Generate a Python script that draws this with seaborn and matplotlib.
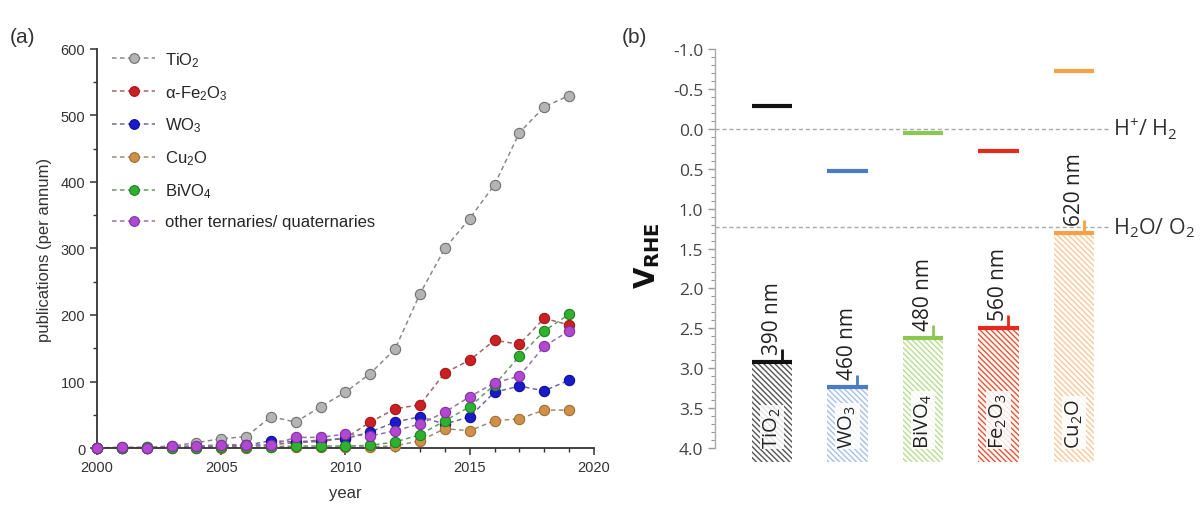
import numpy as np
import pandas as pd
import matplotlib
matplotlib.use("Agg")
import matplotlib.pyplot as plt
from matplotlib.ticker import MultipleLocator, FixedLocator, FormatStrFormatter
import seaborn as sns

# ---------------- data: publications per year ----------------
years = list(range(2000, 2020))
tio2 = [0, 1, 1, 3, 8, 14, 17, 47, 39, 62, 84, 112, 149, 232, 300, 345, 396, 474, 513, 530]
fe2o3 = [0, 0, 0, 1, 1, 2, 3, 5, 8, 10, 15, 39, 59, 65, 113, 132, 162, 156, 195, 185]
wo3 = [0, 0, 0, 1, 2, 3, 4, 11, 9, 12, 14, 24, 39, 47, 36, 47, 84, 93, 86, 102]
cu2o = [0, 0, 0, 0, 0, 0, 0, 1, 1, 1, 1, 2, 3, 11, 29, 26, 41, 44, 57, 57]
bivo4 = [0, 0, 1, 0, 0, 1, 1, 2, 3, 3, 3, 4, 9, 20, 41, 62, 95, 138, 176, 201]
others = [0, 1, 0, 3, 3, 5, 5, 4, 16, 16, 21, 18, 26, 36, 54, 77, 98, 108, 153, 176]

series_names = ["TiO$_2$", r"$\alpha$-Fe$_2$O$_3$", "WO$_3$", "Cu$_2$O", "BiVO$_4$",
                "other ternaries/ quaternaries"]
series_values = [tio2, fe2o3, wo3, cu2o, bivo4, others]
marker_colors = ["#b4b4b4", "#cc1f24", "#1a1acc", "#d09048", "#30b030", "#b048d0"]
edge_colors = ["#707070", "#a01818", "#101090", "#a06c30", "#208020", "#8030a0"]
line_colors = ["#8a8a8a", "#a06666", "#6a6aa0", "#a08a70", "#6a9a6a", "#9a70a8"]

# ---------------- data: band positions ----------------
materials = ["TiO$_2$", "WO$_3$", "BiVO$_4$", "Fe$_2$O$_3$", "Cu$_2$O"]
cb_level = [-0.28, 0.53, 0.05, 0.28, -0.72]
vb_level = [2.92, 3.24, 2.62, 2.49, 1.30]
edge_wavelength = ["390 nm", "460 nm", "480 nm", "560 nm", "620 nm"]
redox_levels = [0.0, 1.23]
redox_labels = ["H$^{+}$/ H$_2$", "H$_2$O/ O$_2$"]
band_colors = ["#111111", "#4a7cc8", "#8cc850", "#e8281c", "#f7a044"]
hatch_colors = ["#555555", "#a8c0e6", "#b6de90", "#f05030", "#f9c898"]

sns.set_style("white")
plt.rcParams["font.family"] = ["Liberation Sans", "DejaVu Sans"]
plt.rcParams["mathtext.default"] = "regular"
plt.rcParams["axes.unicode_minus"] = False
plt.rcParams["hatch.linewidth"] = 1.0

fig = plt.figure(figsize=(12.03, 5.10), dpi=100)

# ================= panel (a) =================
axa = fig.add_axes([0.0806, 0.1196, 0.4131, 0.7824])
rows = []
for name, vals in zip(series_names, series_values):
    for y, v in zip(years, vals):
        rows.append({"year": y, "count": v, "material": name})
df = pd.DataFrame(rows)

sns.lineplot(data=df, x="year", y="count", hue="material", hue_order=series_names,
             palette=dict(zip(series_names, line_colors)), ax=axa,
             linewidth=1.1, legend=False)
for line in axa.lines:
    line.set_dashes([3, 2.2])

# markers drawn over the dashed lines
for name, mc, ec in zip(series_names, marker_colors, edge_colors):
    sub = df[df["material"] == name]
    axa.scatter(sub["year"], sub["count"], s=55, color=mc, edgecolor=ec,
                linewidth=0.8, zorder=3, clip_on=False)

handles = []
for name, lc, mc, ec in zip(series_names, line_colors, marker_colors, edge_colors):
    h, = axa.plot([], [], color=lc, linewidth=1.1, dashes=[3, 2.2], marker="o",
                  markersize=7, markerfacecolor=mc, markeredgecolor=ec,
                  markeredgewidth=0.8)
    handles.append(h)
axa.legend(handles, series_names, loc="upper left", bbox_to_anchor=(0.0, 1.035),
           frameon=False, fontsize=12, handlelength=2.6, labelspacing=0.85,
           handletextpad=0.6)

axa.set_xlim(2000, 2020)
axa.set_ylim(0, 600)
axa.xaxis.set_major_locator(MultipleLocator(5))
axa.xaxis.set_minor_locator(MultipleLocator(1))
axa.yaxis.set_major_locator(MultipleLocator(100))
axa.yaxis.set_minor_locator(MultipleLocator(50))
axa.tick_params(which="both", direction="out", color="#333333", labelcolor="#333333",
                labelsize=10.5, bottom=True, left=True)
axa.tick_params(which="major", length=5, width=1.1)
axa.tick_params(which="minor", length=3, width=1.0)
for s in ["top", "right"]:
    axa.spines[s].set_visible(False)
for s in ["left", "bottom"]:
    axa.spines[s].set_color("#333333")
    axa.spines[s].set_linewidth(1.3)
axa.set_xlabel("year", fontsize=12, color="#333333", labelpad=8)
axa.set_ylabel("publications (per annum)", fontsize=12, color="#333333", labelpad=6)
fig.text(0.008, 0.915, "(a)", fontsize=15, color="#333333")

# ================= panel (b) =================
axb = fig.add_axes([0.5944, 0.0882, 0.3283, 0.8216])
xpos = np.arange(len(materials))
bar_w = 0.54
axb.set_xlim(-0.755, 4.477)
axb.set_ylim(4.2, -1.05)

for lvl in redox_levels:
    axb.axhline(lvl, color="#aaaaaa", linewidth=1.0, linestyle=(0, (3, 2)), zorder=1)

bottom_edge = 4.17
for x, cb, vb, bc, hc, wl, mat in zip(xpos, cb_level, vb_level, band_colors,
                                      hatch_colors, edge_wavelength, materials):
    axb.bar(x, bottom_edge - vb, bottom=vb, width=bar_w, facecolor="none",
            edgecolor=hc, hatch="\\\\\\\\\\\\", linewidth=0, zorder=2)
    axb.hlines([cb, vb], x - bar_w / 2, x + bar_w / 2, color=bc, linewidth=3, zorder=4)
    axb.vlines(x + 0.13, vb - 0.16, vb, color=bc, linewidth=2.0, zorder=4)
    axb.text(x, vb - 0.1, wl, rotation=90, ha="center", va="bottom", fontsize=15,
             family="Open Sans", color="#222222", zorder=5)
    axb.text(x, 4.0, mat, rotation=90, ha="center", va="bottom", fontsize=14.5,
             family="Open Sans", color="#222222", zorder=5,
             bbox=dict(facecolor="white", edgecolor="none", pad=1.0, alpha=0.85))

for lvl, lab in zip(redox_levels, redox_labels):
    axb.text(1.008, lvl, lab, transform=axb.get_yaxis_transform(), ha="left",
             va="center", fontsize=15.5, family="Open Sans", color="#333333")

axb.yaxis.set_major_locator(MultipleLocator(0.5))
axb.yaxis.set_minor_locator(FixedLocator(np.round(np.arange(-1.0, 4.001, 0.1), 2)))
axb.yaxis.set_major_formatter(FormatStrFormatter("%.1f"))
axb.set_xticks([])
axb.tick_params(axis="y", which="both", direction="out", left=True, color="#999999",
                labelcolor="#444444", labelsize=12.5)
axb.tick_params(axis="y", which="major", length=5, width=1.0)
axb.tick_params(axis="y", which="minor", length=3, width=0.8)
for lab in axb.get_yticklabels():
    lab.set_family("Open Sans")
for s in ["top", "right", "bottom"]:
    axb.spines[s].set_visible(False)
axb.spines["left"].set_color("#aaaaaa")
axb.spines["left"].set_linewidth(1.0)
axb.spines["left"].set_bounds(-1.0, 4.0)
axb.set_ylabel(r"$\mathbf{V_{RHE}}$", fontsize=20, color="#111111", labelpad=8)
fig.text(0.517, 0.915, "(b)", fontsize=15, color="#333333")

fig.savefig("out.png", dpi=100)
